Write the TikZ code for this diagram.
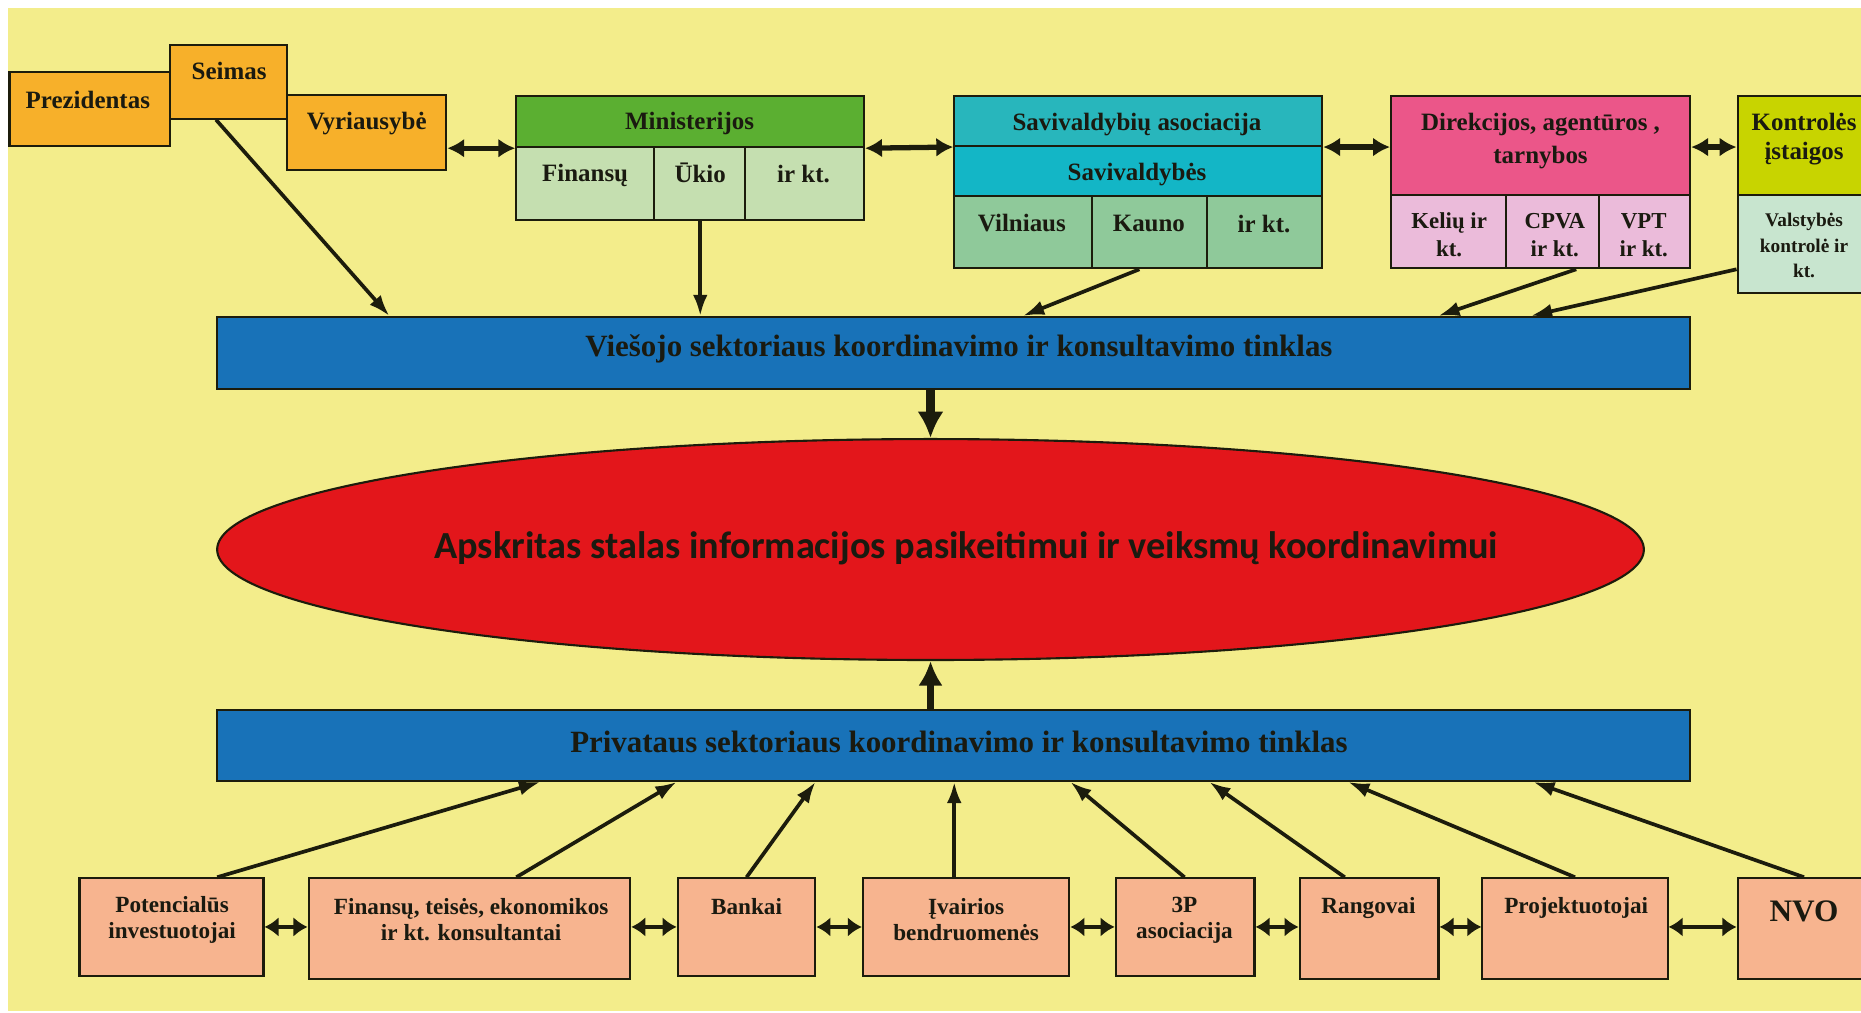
\documentclass[tikz,border=0pt]{standalone}
\usepackage{fontspec}
\setmainfont{Liberation Serif}
\newfontfamily\calfont{Carlito}
\usetikzlibrary{arrows.meta,shapes.geometric,fit}
\definecolor{bgy}{HTML}{F3ED8B}
\definecolor{orng}{HTML}{F7B02A}
\definecolor{mingr}{HTML}{5BAF31}
\definecolor{mincell}{HTML}{C5DFB0}
\definecolor{savas}{HTML}{28B6BC}
\definecolor{savs}{HTML}{13B6C6}
\definecolor{savcell}{HTML}{8FC99A}
\definecolor{dirp}{HTML}{EB5689}
\definecolor{dircell}{HTML}{EBBBDA}
\definecolor{konl}{HTML}{C8D400}
\definecolor{koncell}{HTML}{C8E5CF}
\definecolor{barb}{HTML}{1872B8}
\definecolor{redc}{HTML}{E3161B}
\definecolor{salm}{HTML}{F7B48F}
\definecolor{darkc}{HTML}{1C1C0C}
\definecolor{txtc}{HTML}{1A1A10}
\tikzset{
  box/.style={draw=darkc, line width=0.6pt, inner sep=0pt},
  ttop/.style={font=\bfseries\fontsize{7.1}{9}\selectfont, align=center, text=txtc, inner sep=0pt},
  tcell/.style={font=\bfseries\fontsize{6.5}{8.1}\selectfont, align=center, text=txtc, inner sep=0pt},
  tsmall/.style={font=\bfseries\fontsize{5.5}{7.3}\selectfont, align=center, text=txtc, inner sep=0pt},
  tbot/.style={font=\bfseries\fontsize{6.6}{7.4}\selectfont, align=center, text=txtc, inner sep=0pt},
  tbar/.style={font=\bfseries\fontsize{8.8}{10}\selectfont, align=center, text=txtc, inner sep=0pt},
  arr/.style={-{Latex[length=6pt,width=4.2pt]}, line width=1.05pt, draw=darkc},
  darr/.style={{Latex[length=4.8pt,width=5.4pt]}-{Latex[length=4.8pt,width=5.4pt]}, line width=1.5pt, draw=darkc},
  dbarr/.style={{Latex[length=4pt,width=5.6pt]}-{Latex[length=4pt,width=5.6pt]}, line width=1.3pt, draw=darkc},
}
\begin{document}
\begin{tikzpicture}[x=0.011869cm,y=-0.011869cm]
\useasboundingbox (0,0) rectangle (1568,853);
\clip (0,0) rectangle (1568,853);
\fill[white] (0,0) rectangle (1568,853);
\fill[bgy] (7,7) rectangle (1568,852);

% top left group
\node[box, fill=orng, fit={(8,61) (143,123)}] (prez) {};
\node[box, fill=orng, fit={(143,38) (242,100)}] (seimas) {};
\node[box, fill=orng, fit={(242,80) (376,143)}] (vyr) {};
\node[ttop] (tprez) at (74,84) {Prezidentas};
\node[ttop] (tseimas) at (193,60) {Seimas};
\node[ttop] (tvyr) at (309,104) {Vyriausybė};

% Ministerijos
\node[box, fill=mingr, fit={(435,81) (728,124)}] (minh) {};
\node[box, fill=mincell, fit={(435,124) (551,185)}] (fin) {};
\node[box, fill=mincell, fit={(551,124) (628,185)}] (ukio) {};
\node[box, fill=mincell, fit={(628,124) (728,185)}] (minkt) {};
\node[ttop] (tmin) at (581,104) {Ministerijos};
\node[ttop] (tfin) at (493,148) {Finansų};
\node[ttop] (tukio) at (590,146) {Ūkio};
\node[ttop] (tminkt) at (677,147) {ir kt.};

% Savivaldybes
\node[box, fill=savas, fit={(804,81) (1114,123)}] (sava) {};
\node[box, fill=savs, fit={(804,123) (1114,165)}] (savs) {};
\node[box, fill=savcell, fit={(804,165) (920,226)}] (viln) {};
\node[box, fill=savcell, fit={(920,165) (1017,226)}] (kauno) {};
\node[box, fill=savcell, fit={(1017,165) (1114,226)}] (savkt) {};
\node[ttop] (tsava) at (958,105) {Savivaldybių asociacija};
\node[ttop] (tsavs) at (958,147) {Savivaldybės};
\node[ttop] (tviln) at (861,188) {Vilniaus};
\node[ttop] (tkauno) at (968,188) {Kauno};
\node[ttop] (tsavkt) at (1065,189) {ir kt.};

% Direkcijos
\node[box, fill=dirp, fit={(1172,81) (1424,164)}] (dir) {};
\node[box, fill=dircell, fit={(1172,164) (1269,226)}] (keliu) {};
\node[box, fill=dircell, fit={(1269,164) (1347,226)}] (cpva) {};
\node[box, fill=dircell, fit={(1347,164) (1424,226)}] (vpt) {};
\node[ttop, font=\bfseries\fontsize{7.1}{9.4}\selectfont] (tdir) at (1298,119) {Direkcijos, agentūros ,\\tarnybos};
\node[tcell] (tkeliu) at (1221,198) {Kelių ir\\kt.};
\node[tcell] (tcpva) at (1310,198) {CPVA\\ir kt.};
\node[tcell] (tvpt) at (1385,198) {VPT\\ir kt.};

% Kontroles
\node[box, fill=konl, fit={(1464,81) (1578,164)}] (kon1) {};
\node[box, fill=koncell, fit={(1464,164) (1578,247)}] (kon2) {};
\node[ttop, font=\bfseries\fontsize{7.1}{8.4}\selectfont] (tkon1) at (1520,117) {Kontrolės\\įstaigos};
\node[tsmall] (tkon2) at (1520,207) {Valstybės\\kontrolė ir\\kt.};

% top double arrows
\draw[darr] (vyr.east |- minh.south) -- (minh.south west);
\draw[darr] (minh.south east) -- (sava.south west);
\draw[darr] (sava.south east) -- (dir.west |- sava.south);
\draw[darr] (dir.east |- sava.south) -- (kon1.west |- sava.south);

% public bar
\node[box, fill=barb, fit={(183,267) (1424,328)}] (pub) {};
\node[tbar] (tpub) at (808,294) {Viešojo sektoriaus koordinavimo ir konsultavimo tinklas};

\draw[arr] (182,0 |- seimas.south) -- (328,0 |- pub.north);
\draw[arr] (590,0 |- ukio.south) -- (590,0 |- pub.north);
\draw[arr] (960,0 |- kauno.south) -- (862,0 |- pub.north);
\draw[arr] (1328,0 |- cpva.south) -- (1212,0 |- pub.north);
\draw[arr] (kon2.west |- kauno.south) -- (1290,0 |- pub.north);

% round table
\node[ellipse, draw=darkc, line width=0.6pt, fill=redc, minimum width=14.27cm, minimum height=2.21cm, inner sep=0pt] (rt) at (784,463) {};
\node[font=\calfont\bfseries\fontsize{10.9}{12}\selectfont, text=txtc, inner sep=0pt] (trt) at (814,462) {Apskritas stalas informacijos pasikeitimui ir veiksmų koordinavimui};

% private bar
\node[box, fill=barb, fit={(183,598) (1424,658)}] (priv) {};
\node[tbar] (tpriv) at (808,625) {Privataus sektoriaus koordinavimo ir konsultavimo tinklas};

\draw[-{Latex[length=7.5pt,width=7.5pt]}, line width=2.6pt, draw=darkc] (rt.north |- pub.south) -- (rt.north);
\draw[-{Latex[length=7pt,width=7pt]}, line width=2pt, draw=darkc] (rt.south |- priv.north) -- (rt.south);

% bottom boxes
\node[box, fill=salm, fit={(67,740) (222,822)}] (pot) {};
\node[box, fill=salm, fit={(260,740) (531,825)}] (fkons) {};
\node[box, fill=salm, fit={(571,740) (687,822)}] (bank) {};
\node[box, fill=salm, fit={(727,740) (901,822)}] (ivair) {};
\node[box, fill=salm, fit={(940,740) (1057,822)}] (tp) {};
\node[box, fill=salm, fit={(1095,740) (1212,825)}] (rang) {};
\node[box, fill=salm, fit={(1249,740) (1405,825)}] (proj) {};
\node[box, fill=salm, fit={(1464,740) (1578,825)}] (nvo) {};
\node[tbot] (tpot) at (145,775) {Potencialūs\\investuotojai};
\node[tbot] (tfkons) at (397,775) {Finansų, teisės, ekonomikos\\ir kt. konsultantai};
\node[tbot] (tbank) at (629,764) {Bankai};
\node[tbot] (tivair) at (814,775) {Įvairios\\bendruomenės};
\node[tbot] (ttp) at (998,775) {3P\\asociacija};
\node[tbot] (trang) at (1153,765) {Rangovai};
\node[tbot] (tproj) at (1328,765) {Projektuotojai};
\node[tbot, font=\bfseries\fontsize{8.9}{10}\selectfont] (tnvo) at (1520,768) {NVO};

% bottom double arrows
\draw[dbarr] (pot.east) -- (pot.east -| fkons.west);
\draw[dbarr] (pot.east -| fkons.east) -- (pot.east -| bank.west);
\draw[dbarr] (pot.east -| bank.east) -- (pot.east -| ivair.west);
\draw[dbarr] (pot.east -| ivair.east) -- (pot.east -| tp.west);
\draw[dbarr] (pot.east -| tp.east) -- (pot.east -| rang.west);
\draw[dbarr] (pot.east -| rang.east) -- (pot.east -| proj.west);
\draw[dbarr] (pot.east -| proj.east) -- (pot.east -| nvo.west);

% arrows up to private bar
\draw[arr] (183,0 |- pot.north) -- (455,0 |- priv.south);
\draw[arr] (435,0 |- fkons.north) -- (570,0 |- priv.south);
\draw[arr] (629,0 |- bank.north) -- (687,0 |- priv.south);
\draw[arr] (804,0 |- ivair.north) -- (804,0 |- priv.south);
\draw[arr] (998,0 |- tp.north) -- (902,0 |- priv.south);
\draw[arr] (1133,0 |- rang.north) -- (1019,0 |- priv.south);
\draw[arr] (1327,0 |- proj.north) -- (1136,0 |- priv.south);
\draw[arr] (1520,0 |- nvo.north) -- (1292,0 |- priv.south);
\end{tikzpicture}
\end{document}
